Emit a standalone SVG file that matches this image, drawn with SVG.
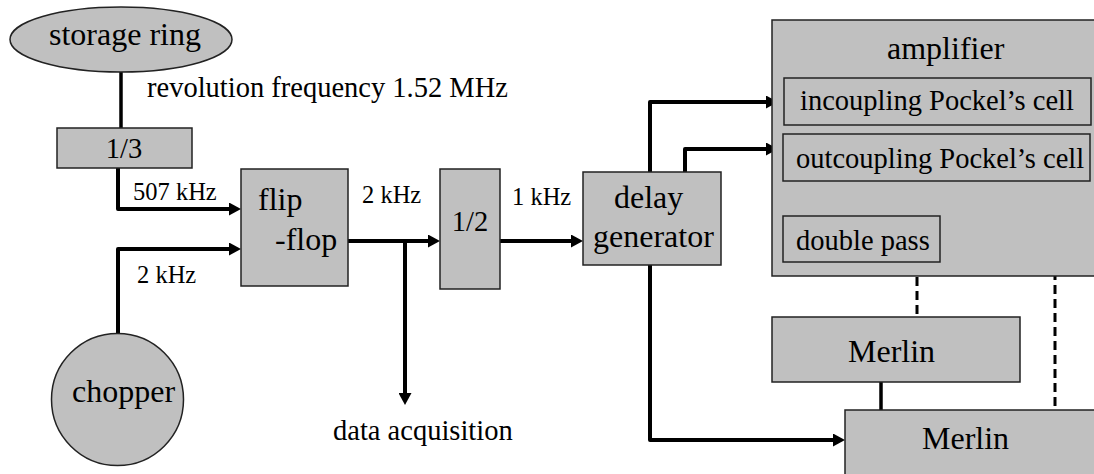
<svg xmlns="http://www.w3.org/2000/svg" width="1094" height="474" viewBox="0 0 1094 474" font-family="'Liberation Serif', 'Times New Roman', serif">
  <style>
    .box { fill: #c0c0c0; stroke: #222; stroke-width: 1.5; }
    text { font-family: 'Liberation Serif', 'Times New Roman', serif; fill: #000; }
    .big { font-size: 32px; }
    .mid { font-size: 28.5px; }
    .small { font-size: 24.5px; }
    .wire { fill: none; stroke: #000; stroke-width: 4; stroke-linejoin: round; }
    .thin { fill: none; stroke: #000; stroke-width: 3.5; }
    .dash { fill: none; stroke: #000; stroke-width: 3; stroke-dasharray: 9 5; }
  </style>
  <defs>
    <marker id="arrow" markerUnits="userSpaceOnUse" markerWidth="12" markerHeight="13" refX="0" refY="6.5" orient="auto">
      <path d="M0,0 L12,6.5 L0,13 Z" fill="#000"/>
    </marker>
  </defs>

  <!-- connectors -->
  <g id="connectors">
    <line class="thin" x1="121" y1="72" x2="121" y2="128"/>
    <path class="wire" d="M118,168 V209 H229" marker-end="url(#arrow)"/>
    <path class="wire" d="M118,333 V249 H229" marker-end="url(#arrow)"/>
    <path class="wire" d="M348,241 H428" marker-end="url(#arrow)"/>
    <path class="wire" d="M405,241 V393" marker-end="url(#arrow)"/>
    <path class="wire" d="M500,241 H571" marker-end="url(#arrow)"/>
    <path class="wire" d="M650,172 V102 H766" marker-end="url(#arrow)"/>
    <path class="wire" d="M685,172 V149 H766" marker-end="url(#arrow)"/>
    <path class="wire" d="M650,265 V440 H833" marker-end="url(#arrow)"/>
    <line class="dash" x1="917" y1="263" x2="917" y2="317"/>
    <line class="thin" x1="881" y1="382" x2="881" y2="410"/>
    <line class="dash" x1="1055" y1="187" x2="1055" y2="410"/>
  </g>

  <!-- free labels -->
  <g id="labels">
    <text class="mid" x="147" y="97">revolution frequency 1.52 MHz</text>
    <text class="small" x="133" y="200">507 kHz</text>
    <text class="small" x="137" y="283">2 kHz</text>
    <text class="small" x="362" y="203">2 kHz</text>
    <text class="small" x="512" y="205">1 kHz</text>
    <text class="mid" x="333" y="440">data acquisition</text>
  </g>

  <g id="storage-ring">
    <ellipse class="box" cx="121" cy="39.5" rx="111" ry="32.5"/>
    <text class="big" x="49" y="45">storage ring</text>
  </g>

  <g id="divider-3">
    <rect class="box" x="57" y="128" width="135" height="40"/>
    <text class="mid" x="124" y="158" text-anchor="middle">1/3</text>
  </g>

  <g id="chopper">
    <circle class="box" cx="117.5" cy="399.5" r="66"/>
    <text class="big" x="72" y="402">chopper</text>
  </g>

  <g id="flip-flop">
    <rect class="box" x="241" y="169" width="107" height="117"/>
    <text class="big" x="258" y="210">flip</text>
    <text class="big" x="275" y="250">-flop</text>
  </g>

  <g id="divider-2">
    <rect class="box" x="440" y="169" width="60" height="120"/>
    <text class="mid" x="470" y="231" text-anchor="middle">1/2</text>
  </g>

  <g id="delay-generator">
    <rect class="box" x="583" y="172" width="138" height="93"/>
    <text class="big" x="614" y="208">delay</text>
    <text class="big" x="593" y="247">generator</text>
  </g>

  <g id="amplifier">
    <rect class="box" x="772" y="20" width="340" height="256"/>
    <text class="big" x="887" y="59">amplifier</text>
    <g id="incoupling">
      <rect class="box" x="784" y="78" width="307" height="47"/>
      <text class="mid" x="800" y="110">incoupling Pockel’s cell</text>
    </g>
    <g id="outcoupling">
      <rect class="box" x="783" y="134" width="307" height="47"/>
      <text class="mid" x="796" y="168">outcoupling Pockel’s cell</text>
    </g>
    <g id="double-pass">
      <rect class="box" x="783" y="216" width="157" height="46"/>
      <text class="mid" x="796" y="250">double pass</text>
    </g>
  </g>

  <g id="merlin-1">
    <rect class="box" x="772" y="317" width="248" height="65"/>
    <text class="big" x="848" y="362">Merlin</text>
  </g>

  <g id="merlin-2">
    <rect class="box" x="845" y="410" width="270" height="80"/>
    <text class="big" x="922" y="449">Merlin</text>
  </g>
</svg>
